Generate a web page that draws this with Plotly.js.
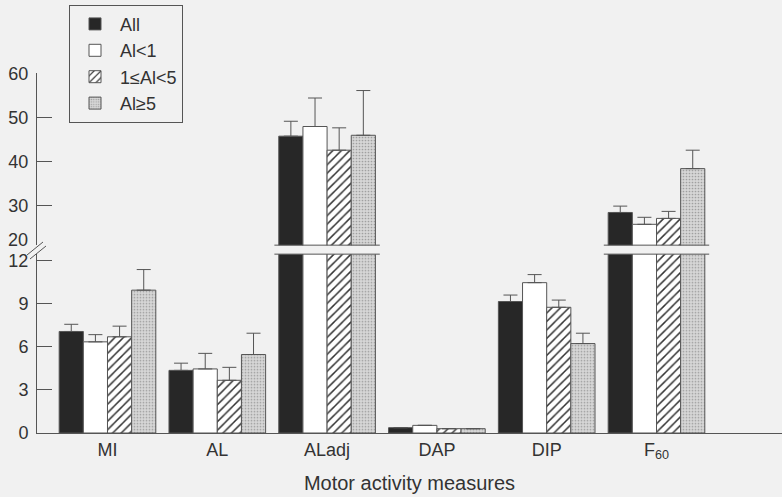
<!DOCTYPE html>
<html>
<head>
<meta charset="utf-8">
<script src="https://cdn.plot.ly/plotly-3.0.1.min.js"></script>
<style>html,body{margin:0;padding:0;background:#f1f1f1;}#chart{width:782px;height:497px;}</style>
</head>
<body>
<div id="chart"></div>
<script>
// ---- data ----
var categories = ["MI", "AL", "ALadj", "DAP", "DIP", "F<sub>60</sub>"];
var seriesNames = ["All", "Al<1", "1≤Al<5", "Al≥5"];
var valAll   = [7.05, 4.35, 45.8, 0.37, 9.13, 28.4];
var errAll   = [0.50, 0.50, 3.4, 0, 0.45, 1.45];
var valLt1   = [6.33, 4.45, 48.0, 0.53, 10.44, 25.7];
var errLt1   = [0.50, 1.08, 6.5, 0, 0.56, 1.6];
var val1to5  = [6.68, 3.66, 42.6, 0.30, 8.73, 27.05];
var err1to5  = [0.74, 0.90, 5.1, 0, 0.50, 1.6];
var valGe5   = [9.92, 5.45, 46.0, 0.30, 6.21, 38.4];
var errGe5   = [1.43, 1.48, 10.2, 0, 0.72, 4.2];
var lowerTicks = [0, 3, 6, 9, 12];
var upperTicks = [30, 40, 50, 60];

// ---- styling ----
var lowerMax = 12.42, upperMin = 20.95, upperMax = 60.2;
var lowDomTop = 0.4968, upDomBot = 0.5218;
var lineCol = "#555";
var styles = [
  {color: "#272727"},
  {color: "#ffffff"},
  {color: "#ffffff", pattern: {shape: "/", fgcolor: "#333", bgcolor: "#ffffff", size: 6, solidity: 0.25, fillmode: "replace"}},
  {color: "#d2d2d2", pattern: {shape: ".", fgcolor: "#a0a0a0", bgcolor: "#d6d6d6", size: 3, solidity: 0.25, fillmode: "replace"}}
];
var vals = [valAll, valLt1, val1to5, valGe5];
var errs = [errAll, errLt1, err1to5, errGe5];
var xIdx = categories.map(function(c, i){ return i; });

var traces = [];
["y", "y2"].forEach(function(ya, k){
  vals.forEach(function(v, s){
    var m = {color: styles[s].color, line: {color: lineCol, width: 1}};
    if (styles[s].pattern) m.pattern = styles[s].pattern;
    traces.push({
      type: "bar", x: xIdx, y: v, name: seriesNames[s], yaxis: ya, xaxis: "x",
      showlegend: k === 0,
      marker: m,
      error_y: {type: "data", symmetric: false, array: errs[s], arrayminus: errs[s].map(function(){return 0;}),
                color: lineCol, thickness: 1, width: 7},
      hoverinfo: "skip"
    });
  });
});

// break lines across groups whose bars exceed the lower range
var shapes = [];
xIdx.forEach(function(i){
  var broken = vals.some(function(v){ return v[i] > lowerMax; });
  if (broken) {
    [lowDomTop, upDomBot].forEach(function(yy){
      shapes.push({type: "line", xref: "x", yref: "paper", x0: i - 0.48, x1: i + 0.48, y0: yy, y1: yy,
                   line: {color: lineCol, width: 1}});
    });
  }
});
// axis break marks "//"
function px(x){ return (x - 37) / 745; }
function py(y){ return (433 - y) / 360; }
shapes.push({type: "line", xref: "paper", yref: "paper", x0: px(27), y0: py(255), x1: px(43), y1: py(242), line: {color: lineCol, width: 1}});
shapes.push({type: "line", xref: "paper", yref: "paper", x0: px(30), y0: py(259), x1: px(46), y1: py(246), line: {color: lineCol, width: 1}});

var tickFont = {family: "Liberation Sans, Arial, sans-serif", size: 18, color: "#333"};
var layout = {
  width: 782, height: 497,
  margin: {l: 37, r: 0, t: 73, b: 64},
  paper_bgcolor: "#f1f1f1", plot_bgcolor: "#f1f1f1",
  barmode: "group", bargap: 0.12, bargroupgap: 0,
  showlegend: true,
  font: {family: "Liberation Sans, Arial, sans-serif", color: "#333"},
  xaxis: {range: [-0.642, 6.143], tickvals: xIdx, ticktext: categories, ticks: "",
          showline: true, linecolor: lineCol, linewidth: 1, showgrid: false, zeroline: false,
          tickfont: tickFont, anchor: "y",
          title: {text: "Motor activity measures", font: {size: 20, color: "#333"}, standoff: 14}},
  yaxis: {domain: [0, lowDomTop], range: [0, lowerMax], tickvals: lowerTicks, ticks: "inside", ticklen: 15,
          tickcolor: lineCol, showline: true, linecolor: lineCol, showgrid: false, zeroline: false,
          tickfont: tickFont, anchor: "x", ticklabelstandoff: 4},
  yaxis2: {domain: [upDomBot, 1], range: [upperMin, upperMax], tickvals: upperTicks, ticks: "inside", ticklen: 15,
           tickcolor: lineCol, showline: true, linecolor: lineCol, showgrid: false, zeroline: false,
           tickfont: tickFont, anchor: "x", ticklabelstandoff: 4},
  legend: {x: px(69), y: py(4.7), xanchor: "left", yanchor: "top", bordercolor: lineCol, borderwidth: 1,
           bgcolor: "rgba(0,0,0,0)", font: {size: 18, color: "#333"}, traceorder: "normal",
           tracegroupgap: 0, itemwidth: 40},
  annotations: [{text: "20", xref: "paper", yref: "paper", x: px(29), y: py(240), xanchor: "right", yanchor: "middle",
                 showarrow: false, font: tickFont, borderpad: 0}],
  shapes: shapes
};
Plotly.newPlot("chart", traces, layout, {displayModeBar: false, staticPlot: true});
</script>
</body>
</html>
